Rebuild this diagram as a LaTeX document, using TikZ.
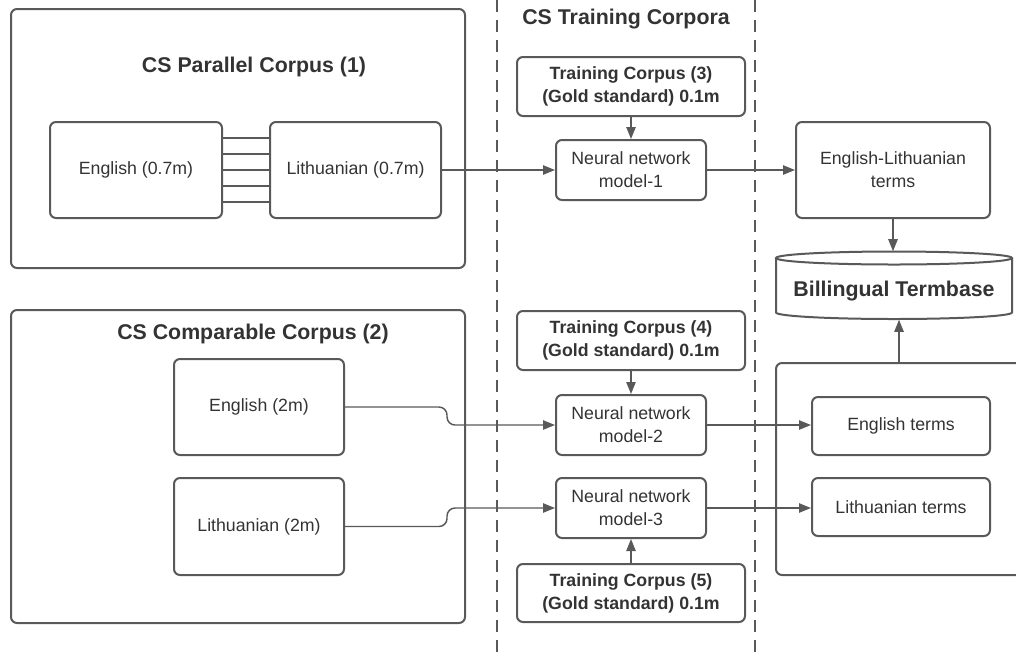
\documentclass[tikz,border=0pt]{standalone}
\usepackage{fontspec}
\setmainfont{Liberation Sans}
\usetikzlibrary{arrows.meta,calc}
\definecolor{ln}{HTML}{595959}
\definecolor{tx}{HTML}{333333}
\begin{document}
\begin{tikzpicture}[x=0.75pt,y=-0.75pt,
  box/.style={draw=ln,line width=1.5pt,rounded corners=4.5pt,inner sep=0pt,align=center,text=tx,
    font=\fontsize{13.3}{17.25}\selectfont},
  bbox/.style={box,font=\fontsize{13.3}{17.25}\selectfont\bfseries},
  title/.style={text=tx,font=\fontsize{16}{19}\selectfont\bfseries,inner sep=0pt},
  conn/.style={draw=ln,line width=1.1pt},
  arr/.style={conn,-{Triangle[length=9pt,width=7pt]}},
  dsh/.style={draw=ln,line width=1.1pt,dash pattern=on 9pt off 6pt}]
\useasboundingbox (0,0) rectangle (1016,654);
% dashed separators
\draw[dsh] (497,0) -- (497,654);
\draw[dsh] (755,0) -- (755,654);
% parallel corpus
\node[box,minimum width=340.5pt,minimum height=194.25pt] (par) at (238,138.5) {};
\node[title] (partitle) at (254,67) {CS Parallel Corpus (1)};
\node[box,minimum width=129pt,minimum height=72pt] (e1) at (136,170) {English (0.7m)};
\node[box,minimum width=128.25pt,minimum height=72pt] (l1) at (355.5,170) {Lithuanian (0.7m)};
\foreach \d in {-24,-12,0,12,24}
  \draw[conn] ([yshift=\d pt]e1.east) -- ([yshift=\d pt]l1.west);
% training corpora
\node[title] (tctitle) at (626,19) {CS Training Corpora};
\node[bbox,minimum width=171pt,minimum height=44.25pt] (t3) at (631,86.5) {Training Corpus (3)\\(Gold standard) 0.1m};
\node[box,minimum width=112.5pt,minimum height=45pt] (n1) at (631,170) {Neural network\\model-1};
\node[bbox,minimum width=171pt,minimum height=44.25pt] (t4) at (631,340.5) {Training Corpus (4)\\(Gold standard) 0.1m};
\node[box,minimum width=112.5pt,minimum height=45pt] (n2) at (631,425) {Neural network\\model-2};
\node[box,minimum width=112.5pt,minimum height=45pt] (n3) at (631,508) {Neural network\\model-3};
\node[bbox,minimum width=171pt,minimum height=43.5pt] (t5) at (631,593) {Training Corpus (5)\\(Gold standard) 0.1m};
% comparable corpus
\node[box,minimum width=340.5pt,minimum height=234.75pt] (comp) at (238,466.5) {};
\node[title] (comptitle) at (253,334) {CS Comparable Corpus (2)};
\node[box,minimum width=127.5pt,minimum height=72pt] (e2) at (259,407) {English (2m)};
\node[box,minimum width=127.5pt,minimum height=72.75pt] (l2) at (259,526.5) {Lithuanian (2m)};
% right side
\node[box,minimum width=145.5pt,minimum height=72pt] (el) at (893,170) {English-Lithuanian\\terms};
\node[inner sep=0pt,minimum width=177pt,minimum height=51pt] (cyl) at (894,285.5) {};
\draw[ln,line width=1.5pt,fill=white] (776,258) -- (776,312.5)
   arc[start angle=180,end angle=0,x radius=118,y radius=6.5] -- (1012,258);
\draw[ln,line width=1.5pt] (894,258) ellipse [x radius=118,y radius=6.5];
\node[title] (cyltext) at (894,291) {Billingual Termbase};
\draw[ln,line width=1.5pt,rounded corners=4.5pt] (1016,363) -- (776,363) -- (776,575) -- (1016,575);
\coordinate (grptop) at (899,363);
\node[box,minimum width=133.5pt,minimum height=43.5pt] (et) at (901,426) {English terms};
\node[box,minimum width=133.5pt,minimum height=43.5pt] (lt) at (901,507) {Lithuanian terms};
% connectors
\draw[arr] (l1.east) -- (n1.west);
\draw[arr] (t3.south) -- (n1.north);
\draw[arr] (n1.east) -- (el.west);
\draw[arr] (el.south) -- (el.south |- cyl.north);
\draw[arr] (grptop) -- (grptop |- cyl.south);
\draw[arr] (t4.south) -- (n2.north);
\draw[arr] (t5.north) -- (n3.south);
\draw[arr,rounded corners=6pt] (e2.east) -- ++(102,0) |- (n2.west);
\draw[arr,rounded corners=6pt] (l2.east) -- ++(102,0) |- (n3.west);
\draw[arr] (n2.east) -- (n2.east -| et.west);
\draw[arr] (n3.east) -- (n3.east -| lt.west);
\end{tikzpicture}
\end{document}
